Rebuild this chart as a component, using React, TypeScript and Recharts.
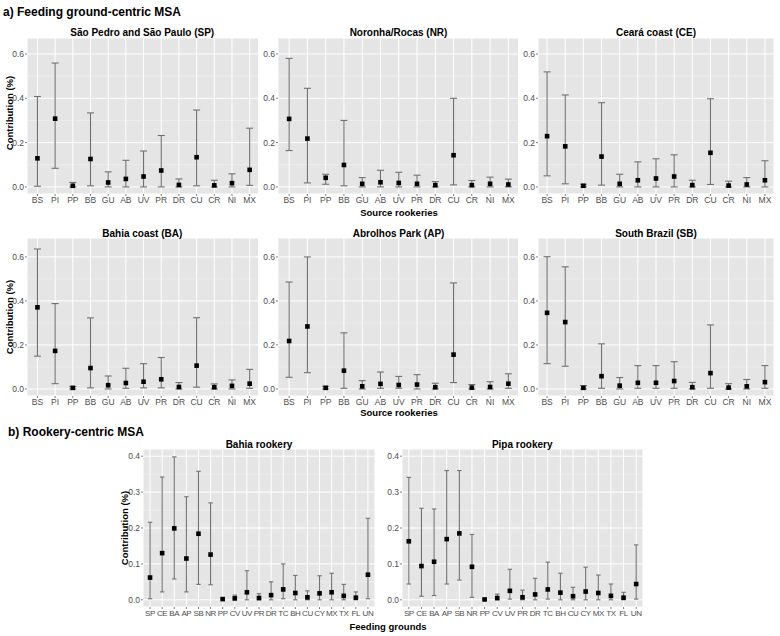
import React from "react";
import {
  ComposedChart,
  Scatter,
  ErrorBar,
  XAxis,
  YAxis,
  CartesianGrid,
  ReferenceLine,
} from "recharts";

const FONT = "'Liberation Sans', Arial, Helvetica, sans-serif";

// source rookeries (panel a) and feeding grounds (panel b)
const rookeries = ["BS", "PI", "PP", "BB", "GU", "AB", "UV", "PR", "DR", "CU", "CR", "NI", "MX"];
const grounds = ["SP", "CE", "BA", "AP", "SB", "NR", "PP", "CV", "UV", "PR", "DR", "TC", "BH", "CU", "CY", "MX", "TX", "FL", "UN"];

// São Pedro and São Paulo (SP)
const spMean = [0.129, 0.308, 0.005, 0.126, 0.02, 0.036, 0.047, 0.074, 0.009, 0.134, 0.007, 0.017, 0.077];
const spLow = [0.003, 0.084, 0, 0.005, 0, 0, 0, 0, 0, 0.005, 0, 0, 0.007];
const spHigh = [0.408, 0.559, 0.02, 0.334, 0.068, 0.12, 0.162, 0.232, 0.036, 0.347, 0.03, 0.059, 0.265];

// Noronha/Rocas (NR)
const nrMean = [0.307, 0.218, 0.041, 0.099, 0.014, 0.021, 0.018, 0.014, 0.008, 0.143, 0.008, 0.014, 0.011];
const nrLow = [0.164, 0.018, 0.012, 0.005, 0, 0, 0, 0, 0, 0.009, 0, 0, 0];
const nrHigh = [0.58, 0.445, 0.057, 0.3, 0.042, 0.075, 0.066, 0.053, 0.024, 0.4, 0.029, 0.044, 0.035];

// Ceará coast (CE)
const ceMean = [0.229, 0.183, 0.005, 0.137, 0.014, 0.03, 0.038, 0.047, 0.008, 0.154, 0.006, 0.011, 0.03];
const ceLow = [0.05, 0.014, 0, 0.008, 0, 0, 0, 0, 0, 0.011, 0, 0, 0];
const ceHigh = [0.519, 0.415, 0.012, 0.38, 0.057, 0.113, 0.127, 0.145, 0.03, 0.398, 0.026, 0.042, 0.118];

// Bahia coast (BA)
const baMean = [0.371, 0.173, 0.005, 0.095, 0.017, 0.027, 0.033, 0.044, 0.009, 0.106, 0.008, 0.014, 0.024];
const baLow = [0.149, 0.024, 0, 0.005, 0, 0.003, 0.005, 0.005, 0, 0.008, 0, 0, 0.003];
const baHigh = [0.636, 0.388, 0.011, 0.323, 0.059, 0.094, 0.115, 0.143, 0.029, 0.324, 0.023, 0.041, 0.089];

// Abrolhos Park (AP)
const apMean = [0.218, 0.284, 0.005, 0.083, 0.012, 0.023, 0.018, 0.02, 0.008, 0.156, 0.006, 0.009, 0.024];
const apLow = [0.053, 0.074, 0, 0.003, 0, 0.003, 0.003, 0, 0, 0.029, 0, 0, 0.003];
const apHigh = [0.486, 0.6, 0.012, 0.255, 0.038, 0.077, 0.057, 0.065, 0.026, 0.482, 0.02, 0.033, 0.069];

// South Brazil (SB)
const sbMean = [0.346, 0.304, 0.005, 0.058, 0.015, 0.028, 0.028, 0.036, 0.008, 0.072, 0.006, 0.012, 0.031];
const sbLow = [0.115, 0.103, 0, 0.003, 0, 0.003, 0.003, 0.003, 0, 0.003, 0, 0, 0.003];
const sbHigh = [0.601, 0.555, 0.015, 0.205, 0.052, 0.106, 0.106, 0.124, 0.03, 0.291, 0.024, 0.043, 0.106];

// Bahia rookery
const bahMean = [0.062, 0.13, 0.199, 0.115, 0.184, 0.126, 0.002, 0.004, 0.021, 0.005, 0.013, 0.029, 0.019, 0.007, 0.018, 0.021, 0.011, 0.006, 0.07];
const bahLow = [0.003, 0.022, 0.058, 0.022, 0.043, 0.042, 0, 0, 0, 0, 0, 0.003, 0, 0, 0, 0, 0, 0, 0.003];
const bahHigh = [0.216, 0.342, 0.398, 0.287, 0.358, 0.27, 0.004, 0.013, 0.081, 0.017, 0.05, 0.1, 0.068, 0.025, 0.067, 0.074, 0.043, 0.022, 0.227];

// Pipa rookery
const pipMean = [0.163, 0.094, 0.106, 0.169, 0.185, 0.092, 0.001, 0.005, 0.025, 0.007, 0.015, 0.029, 0.02, 0.01, 0.023, 0.019, 0.011, 0.006, 0.044];
const pipLow = [0.044, 0.01, 0.012, 0.044, 0.055, 0.007, 0, 0, 0.002, 0, 0, 0.002, 0, 0, 0, 0, 0, 0, 0.002];
const pipHigh = [0.341, 0.255, 0.253, 0.36, 0.36, 0.182, 0.003, 0.016, 0.085, 0.027, 0.06, 0.105, 0.074, 0.035, 0.091, 0.069, 0.044, 0.021, 0.153];

const topTicks = [0, 0.2, 0.4, 0.6];
const topMinor = [0.1, 0.3, 0.5];
const botTicks = [0, 0.1, 0.2, 0.3, 0.4];
const botMinor = [0.05, 0.15, 0.25, 0.35];

type Box = { x: number; y: number; w: number; h: number; padL: number; padR: number };

const Square = (props: any) => {
  const { cx, cy } = props;
  if (cx == null || cy == null) return null;
  return <rect x={cx - 2.3} y={cy - 2.3} width={4.6} height={4.6} fill="#000" />;
};

function Panel(props: {
  box: Box;
  cats: string[];
  mean: number[];
  low: number[];
  high: number[];
  domain: [number, number];
  ticks: number[];
  minor: number[];
  cap: number;
  fontSize: number;
  spacing?: number;
}) {
  const { box, cats, mean, low, high, domain, ticks, minor, cap, fontSize, spacing = 0 } = props;
  const data = cats.map((c, i) => ({
    site: c,
    mean: mean[i],
    err: [mean[i] - low[i], high[i] - mean[i]],
  }));
  const yw = 22;
  const xh = 16;
  return (
    <div style={{ position: "absolute", left: box.x - yw, top: box.y }}>
      <ComposedChart
        width={box.w + yw}
        height={box.h + xh}
        data={data}
        margin={{ top: 0, right: 0, bottom: 0, left: 0 }}
      >
        <CartesianGrid fill="#E5E5E5" stroke="#FFFFFF" strokeWidth={1} />
        {minor.map((v) => (
          <ReferenceLine key={v} y={v} stroke="#F4F4F4" strokeWidth={0.5} />
        ))}
        <XAxis
          dataKey="site"
          type="category"
          scale="band"
          interval={0}
          padding={{ left: box.padL, right: box.padR }}
          axisLine={false}
          tickLine={{ stroke: "#7f7f7f" }}
          tickSize={2}
          tickMargin={1}
          height={xh}
          tick={{ fontSize, fill: "#4d4d4d", fontFamily: FONT, letterSpacing: spacing }}
        />
        <YAxis
          type="number"
          domain={domain}
          ticks={ticks}
          allowDataOverflow
          width={yw}
          axisLine={false}
          tickLine={{ stroke: "#7f7f7f" }}
          tickSize={2}
          tickMargin={1}
          tickFormatter={(v: number) => v.toFixed(1)}
          tick={{ fontSize: 8.5, fill: "#4d4d4d", fontFamily: FONT }}
        />
        <Scatter dataKey="mean" isAnimationActive={false} shape={Square}>
          <ErrorBar
            dataKey="err"
            direction="y"
            width={cap}
            stroke="#707070"
            strokeWidth={1.1}
            isAnimationActive={false}
          />
        </Scatter>
      </ComposedChart>
    </div>
  );
}

const row1: [number, number] = [-0.032, 0.672];
const row2: [number, number] = [-0.032, 0.686];
const row3: [number, number] = [-0.02, 0.42];

export default function App() {
  const boxes = {
    sp: { x: 26.5, y: 38, w: 231.5, h: 156, padL: 1.6, padR: 0 },
    nr: { x: 278.3, y: 38, w: 240.5, h: 156, padL: 2, padR: 1 },
    ce: { x: 538, y: 38, w: 236, h: 156, padL: 0, padR: 0 },
    ba: { x: 26.5, y: 238, w: 231.5, h: 158, padL: 1.6, padR: 0 },
    ap: { x: 278.3, y: 238, w: 240.5, h: 158, padL: 2, padR: 1 },
    sb: { x: 538, y: 238, w: 236, h: 158, padL: 0, padR: 0 },
    bah: { x: 143, y: 449, w: 232, h: 158, padL: 1, padR: 1 },
    pip: { x: 401.7, y: 449, w: 241, h: 158, padL: 0.5, padR: 0.5 },
  };
  const title = (b: Box) => b.x + b.w / 2;
  return (
    <div
      style={{
        position: "absolute",
        left: 0,
        top: 0,
        width: 780,
        height: 636,
        background: "#fff",
        fontFamily: FONT,
      }}
    >
      <Panel box={boxes.sp} cats={rookeries} mean={spMean} low={spLow} high={spHigh} domain={row1} ticks={topTicks} minor={topMinor} cap={3.5} fontSize={8.5} />
      <Panel box={boxes.nr} cats={rookeries} mean={nrMean} low={nrLow} high={nrHigh} domain={row1} ticks={topTicks} minor={topMinor} cap={3.5} fontSize={8.5} />
      <Panel box={boxes.ce} cats={rookeries} mean={ceMean} low={ceLow} high={ceHigh} domain={row1} ticks={topTicks} minor={topMinor} cap={3.5} fontSize={8.5} />
      <Panel box={boxes.ba} cats={rookeries} mean={baMean} low={baLow} high={baHigh} domain={row2} ticks={topTicks} minor={topMinor} cap={3.5} fontSize={8.5} />
      <Panel box={boxes.ap} cats={rookeries} mean={apMean} low={apLow} high={apHigh} domain={row2} ticks={topTicks} minor={topMinor} cap={3.5} fontSize={8.5} />
      <Panel box={boxes.sb} cats={rookeries} mean={sbMean} low={sbLow} high={sbHigh} domain={row2} ticks={topTicks} minor={topMinor} cap={3.5} fontSize={8.5} />
      <Panel box={boxes.bah} cats={grounds} mean={bahMean} low={bahLow} high={bahHigh} domain={row3} ticks={botTicks} minor={botMinor} cap={2.2} fontSize={8} spacing={-0.4} />
      <Panel box={boxes.pip} cats={grounds} mean={pipMean} low={pipLow} high={pipHigh} domain={row3} ticks={botTicks} minor={botMinor} cap={2.2} fontSize={8} spacing={-0.4} />

      <svg
        width={780}
        height={636}
        style={{ position: "absolute", left: 0, top: 0, pointerEvents: "none" }}
        fontFamily={FONT}
      >
        <g fontWeight="bold" fill="#000">
          <text x={3} y={12} fontSize={12} dominantBaseline="central">
            a) Feeding ground-centric MSA
          </text>
          <text x={8} y={432} fontSize={12} dominantBaseline="central">
            b) Rookery-centric MSA
          </text>
          <text x={title(boxes.sp)} y={32} fontSize={10} textAnchor="middle" dominantBaseline="central">
            São Pedro and São Paulo (SP)
          </text>
          <text x={title(boxes.nr)} y={32} fontSize={10} textAnchor="middle" dominantBaseline="central">
            Noronha/Rocas (NR)
          </text>
          <text x={title(boxes.ce)} y={32} fontSize={10} textAnchor="middle" dominantBaseline="central">
            Ceará coast (CE)
          </text>
          <text x={title(boxes.ba)} y={233} fontSize={10} textAnchor="middle" dominantBaseline="central">
            Bahia coast (BA)
          </text>
          <text x={title(boxes.ap)} y={233} fontSize={10} textAnchor="middle" dominantBaseline="central">
            Abrolhos Park (AP)
          </text>
          <text x={title(boxes.sb)} y={233} fontSize={10} textAnchor="middle" dominantBaseline="central">
            South Brazil (SB)
          </text>
          <text x={title(boxes.bah)} y={444} fontSize={10} textAnchor="middle" dominantBaseline="central">
            Bahia rookery
          </text>
          <text x={title(boxes.pip)} y={444} fontSize={10} textAnchor="middle" dominantBaseline="central">
            Pipa rookery
          </text>
          <text x={399} y={212} fontSize={9.5} textAnchor="middle" dominantBaseline="central">
            Source rookeries
          </text>
          <text x={399} y={412} fontSize={9.5} textAnchor="middle" dominantBaseline="central">
            Source rookeries
          </text>
          <text x={388} y={626} fontSize={9.5} textAnchor="middle" dominantBaseline="central">
            Feeding grounds
          </text>
          <text x={9} y={113} fontSize={9.5} textAnchor="middle" dominantBaseline="central" transform="rotate(-90 9 113)">
            Contribution (%)
          </text>
          <text x={9} y={317} fontSize={9.5} textAnchor="middle" dominantBaseline="central" transform="rotate(-90 9 317)">
            Contribution (%)
          </text>
          <text x={124} y={528} fontSize={9.5} textAnchor="middle" dominantBaseline="central" transform="rotate(-90 124 528)">
            Contribution (%)
          </text>
        </g>
      </svg>
    </div>
  );
}
